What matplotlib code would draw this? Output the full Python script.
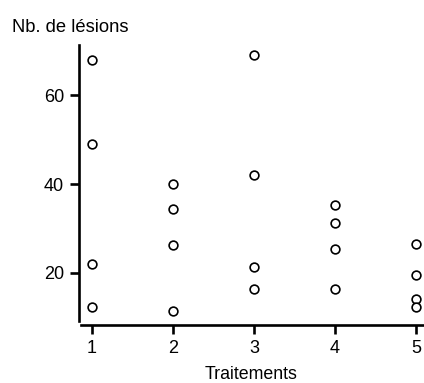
import numpy as np
import matplotlib
matplotlib.use('Agg')
import matplotlib.pyplot as plt

plt.rcParams['font.family'] = ['Liberation Sans', 'DejaVu Sans']

traitement = [1, 1, 1, 1, 2, 2, 2, 2, 3, 3, 3, 3, 4, 4, 4, 4, 5, 5, 5, 5]
lesions = [68, 49, 22, 12.4,
           40, 34.4, 26.3, 11.5,
           69, 42, 21.3, 16.4,
           35.3, 31.2, 25.4, 16.4,
           26.5, 19.6, 14.2, 12.4]
xticks = [1, 2, 3, 4, 5]
yticks = [20, 40, 60]

fig = plt.figure(figsize=(4.24, 3.83), dpi=100)
ax = fig.add_axes([0.1863, 0.1619, 0.8137, 0.7206])

ax.plot(traitement, lesions, 'o', ms=6.3, mfc='white', mec='black', mew=1.2,
        clip_on=False)

ax.set_xlim(0.84, 5.1)
ax.set_ylim(9.2, 71.3)
ax.set_xticks(xticks)
ax.set_yticks(yticks)

for s in ['top', 'right']:
    ax.spines[s].set_visible(False)
for s in ['left', 'bottom']:
    ax.spines[s].set_linewidth(1.9)
ax.spines['bottom'].set_position(('outward', 3))
ax.spines['bottom'].set_bounds(0.865, 5.1)

ax.tick_params(direction='out', length=6.8, width=1.9, labelsize=13, pad=4)

ax.set_xlabel('Traitements', fontsize=12.8, labelpad=6.5)
fig.text(12 / 424, 1 - 32 / 383, 'Nb. de lésions', fontsize=13.2,
         ha='left', va='baseline')

fig.savefig('out.png', dpi=100)
